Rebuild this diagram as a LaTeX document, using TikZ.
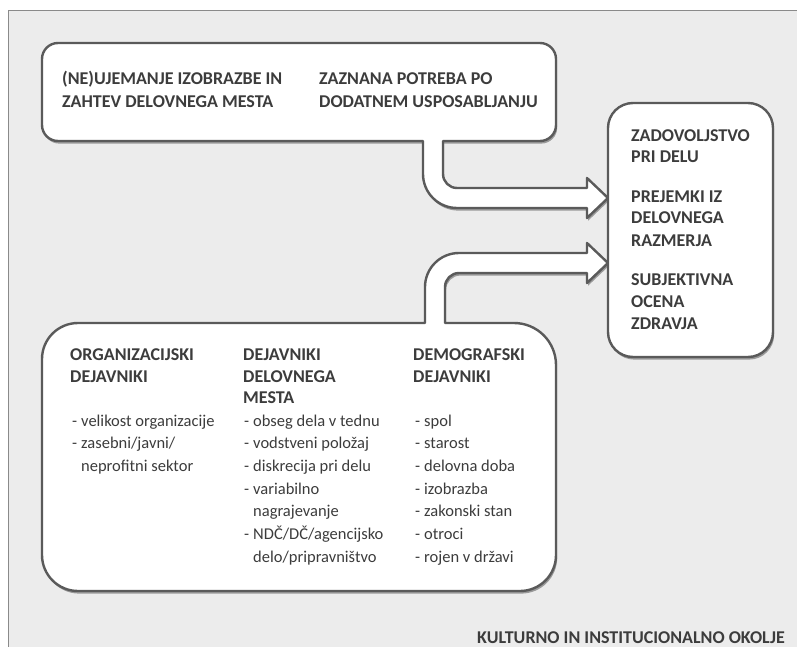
\documentclass[tikz,border=0pt]{standalone}
\usepackage{fontspec}
\setmainfont{Carlito}
\usetikzlibrary{shadows}
\definecolor{bggray}{HTML}{ECECEC}
\definecolor{framegray}{HTML}{8A8A8A}
\definecolor{edgegray}{HTML}{5A5A5A}
\definecolor{txt}{HTML}{3C3C3C}
\newcommand{\dashitem}{\makebox[9pt][l]{-}}
\tikzset{
  shapebox/.style={fill=white, draw=edgegray, line width=2.4pt, line join=round,
    drop shadow={shadow xshift=1.2pt, shadow yshift=-2.6pt, opacity=0.35, fill=black}},
  lbl/.style={anchor=base west, inner sep=0pt, text=txt, font=\fontsize{18}{22}\selectfont\bfseries},
  itm/.style={anchor=base west, inner sep=0pt, text=txt, font=\fontsize{16.5}{20}\selectfont},
}
\begin{document}
\begin{tikzpicture}[x=1pt,y=-1pt]
\useasboundingbox (0,0) rectangle (797,647);
\fill[white] (0,0) rectangle (797,647);
\fill[bggray] (8,11) rectangle (797,647);
\draw[framegray, line width=1pt] (8,647) -- (8,11) -- (797,11);

% top box merged with arrow 1
\path[shapebox] (42,59) arc[start angle=180,end angle=90,radius=16pt]
  -- (540,43) arc[start angle=90,end angle=0,radius=16pt]
  -- (556,125) arc[start angle=0,end angle=-90,radius=16pt]
  -- (443,141) -- (443,174) arc[start angle=180,end angle=270,radius=14pt]
  -- (587,188) -- (587,178) -- (608,198) -- (587,218) -- (587,208)
  -- (457,208) arc[start angle=270,end angle=180,radius=34pt]
  -- (423,141) -- (58,141) arc[start angle=270,end angle=180,radius=16pt]
  -- cycle;

% bottom box merged with arrow 2
\path[shapebox] (42,359) arc[start angle=180,end angle=90,radius=36pt]
  -- (425,323) -- (425,287) arc[start angle=180,end angle=90,radius=34pt]
  -- (587,253) -- (587,243) -- (608,263) -- (587,283) -- (587,273)
  -- (459,273) arc[start angle=90,end angle=180,radius=14pt]
  -- (445,323) -- (514,323) arc[start angle=90,end angle=0,radius=42pt]
  -- (556,555) arc[start angle=0,end angle=-90,radius=36pt]
  -- (78,591) arc[start angle=270,end angle=180,radius=36pt]
  -- cycle;

% right box
\path[shapebox, rounded corners=25pt] (608,103) rectangle (773,357);

% top box text
\node[lbl] (t1) at (62,85) {(NE)UJEMANJE IZOBRAZBE IN};
\node[lbl] (t2) at (62,108) {ZAHTEV DELOVNEGA MESTA};
\node[lbl] (t3) at (319,85) {ZAZNANA POTREBA PO};
\node[lbl] (t4) at (319,108) {DODATNEM USPOSABLJANJU};

% right box text
\node[lbl] (r1) at (631,142) {ZADOVOLJSTVO};
\node[lbl] (r2) at (631,163) {PRI DELU};
\node[lbl] (r3) at (631,202) {PREJEMKI IZ};
\node[lbl] (r4) at (631,223) {DELOVNEGA};
\node[lbl] (r5) at (631,246) {RAZMERJA};
\node[lbl] (r6) at (631,285) {SUBJEKTIVNA};
\node[lbl] (r7) at (631,307) {OCENA};
\node[lbl] (r8) at (631,329) {ZDRAVJA};

% bottom box headings
\node[lbl] (h1) at (70,360) {ORGANIZACIJSKI};
\node[lbl] (h2) at (70,382) {DEJAVNIKI};
\node[lbl] (h3) at (243,360) {DEJAVNIKI};
\node[lbl] (h4) at (243,382) {DELOVNEGA};
\node[lbl] (h5) at (243,403) {MESTA};
\node[lbl] (h6) at (413,360) {DEMOGRAFSKI};
\node[lbl] (h7) at (413,382) {DEJAVNIKI};

% column 1 items
\node[itm] (a1) at (72,426) {\dashitem velikost organizacije};
\node[itm] (a2) at (72,448.7) {\dashitem zasebni/javni/};
\node[itm] (a3) at (81,471.3) {neprofitni sektor};

% column 2 items
\node[itm] (b1) at (244,426) {\dashitem obseg dela v tednu};
\node[itm] (b2) at (244,448.7) {\dashitem vodstveni položaj};
\node[itm] (b3) at (244,471.3) {\dashitem diskrecija pri delu};
\node[itm] (b4) at (244,494) {\dashitem variabilno};
\node[itm] (b5) at (253,516.7) {nagrajevanje};
\node[itm] (b6) at (244,539.3) {\dashitem NDČ/DČ/agencijsko};
\node[itm] (b7) at (253,562) {delo/pripravništvo};

% column 3 items
\node[itm] (c1) at (415,426) {\dashitem spol};
\node[itm] (c2) at (415,448.7) {\dashitem starost};
\node[itm] (c3) at (415,471.3) {\dashitem delovna doba};
\node[itm] (c4) at (415,494) {\dashitem izobrazba};
\node[itm] (c5) at (415,516.7) {\dashitem zakonski stan};
\node[itm] (c6) at (415,539.3) {\dashitem otroci};
\node[itm] (c7) at (415,562) {\dashitem rojen v državi};

% footer
\node[lbl, anchor=base east] (k1) at (785,643) {KULTURNO IN INSTITUCIONALNO OKOLJE};
\end{tikzpicture}
\end{document}
